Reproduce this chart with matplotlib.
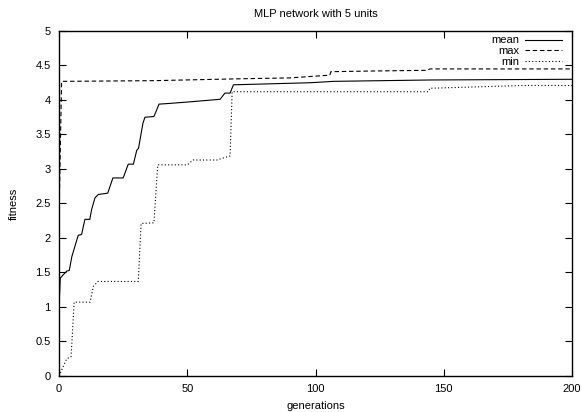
import matplotlib
matplotlib.use('Agg')
from matplotlib import pyplot as plt

plt.rcParams['font.family'] = ['Liberation Sans', 'DejaVu Sans']

TITLE = 'MLP network with 5 units'

# (generation, fitness) points
mean_gen = [0, 0.5, 2, 3, 4, 5, 7.5, 8.8, 10.1, 12, 12.7, 14, 15.3, 19, 21, 25,
            27, 29, 30.3, 31, 32.7, 33.5, 37, 39, 43, 50, 62.8, 64.7, 66.7,
            68, 98, 107, 145, 200]
mean_val = [1.0, 1.42, 1.48, 1.52, 1.53, 1.73, 2.04, 2.05, 2.27, 2.27, 2.41,
            2.58, 2.63, 2.65, 2.87, 2.87, 3.07, 3.07, 3.27, 3.3, 3.66, 3.75,
            3.76, 3.94, 3.95, 3.97, 4.01, 4.1, 4.1, 4.22, 4.25, 4.27, 4.29,
            4.3]

max_gen = [0, 1, 37, 61.5, 74.5, 90, 105.6, 106, 122, 143.5, 144.6, 200]
max_val = [2.3, 4.27, 4.28, 4.3, 4.31, 4.32, 4.36, 4.41, 4.42, 4.43, 4.45,
           4.45]

min_gen = [0, 0.5, 3, 4.7, 5.9, 12.1, 13.4, 15.2, 30.9, 32, 37, 38.5, 50,
           52.3, 61.5, 66.7, 67.5, 144, 144.6, 181, 200]
min_val = [0.0, 0.04, 0.25, 0.28, 1.07, 1.07, 1.3, 1.37, 1.37, 2.21, 2.22,
           3.06, 3.06, 3.13, 3.13, 3.19, 4.12, 4.12, 4.17, 4.21, 4.21]

x_ticks = [0, 50, 100, 150, 200]
y_ticks = [0, 0.5, 1, 1.5, 2, 2.5, 3, 3.5, 4, 4.5, 5]
y_tick_labels = ['0', '0.5', '1', '1.5', '2', '2.5', '3', '3.5', '4', '4.5',
                 '5']

fig = plt.figure(figsize=(5.82, 4.12), dpi=100)
ax = fig.add_axes([0.1014, 0.0874, 0.8814, 0.8374])

ax.plot(mean_gen, mean_val, color='black', lw=0.8, ls='-', label='mean')
ax.plot(max_gen, max_val, color='black', lw=0.8, ls=(0, (4, 2.5)),
        label='max')
ax.plot(min_gen, min_val, color='black', lw=0.8, ls=(0, (1, 2)),
        label='min')

ax.set_xlim(0, 200)
ax.set_ylim(0, 5)
ax.set_xticks(x_ticks)
ax.set_xticklabels([str(t) for t in x_ticks])
ax.set_yticks(y_ticks)
ax.set_yticklabels(y_tick_labels)
ax.tick_params(direction='in', length=5, width=0.8, labelsize=8,
               top=True, right=True, pad=6)
for spine in ax.spines.values():
    spine.set_linewidth(1.0)

ax.set_title(TITLE, fontsize=8, pad=10)
ax.set_xlabel('generations', fontsize=8, labelpad=5)
ax.set_ylabel('fitness', fontsize=8, labelpad=12)

ax.legend(loc='upper right', bbox_to_anchor=(0.99, 1.0), borderaxespad=0,
          frameon=False, markerfirst=False, fontsize=8,
          handlelength=3.4, handletextpad=0.5, labelspacing=0.05)

fig.savefig('out.png', dpi=100)
